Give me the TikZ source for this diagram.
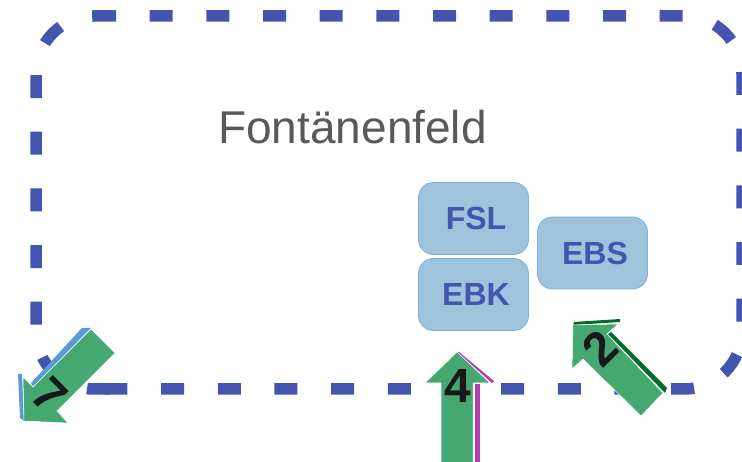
\documentclass[tikz,border=0pt]{standalone}
\usepackage{fontspec}
\setmainfont{Liberation Sans}
\definecolor{frameblue}{HTML}{4455B0}
\definecolor{boxfill}{HTML}{9FC3DB}
\definecolor{boxedge}{HTML}{7FB0D8}
\definecolor{arrowgreen}{HTML}{45A871}
\definecolor{stripblue}{HTML}{5B9BD5}
\definecolor{stripgreen}{HTML}{006B2D}
\definecolor{strippurple}{HTML}{B23FB0}
\definecolor{titlegrey}{HTML}{595959}
\tikzset{
  framepath/.style={draw=frameblue,line width=11.5pt,dash pattern=on 23pt off 33.67pt},
  fieldbox/.style={draw=boxedge,line width=.8pt,fill=boxfill,rounded corners=15pt,minimum width=110pt,minimum height=72pt,inner sep=0pt,
    text=frameblue,font=\fontsize{32}{32}\selectfont\bfseries},
  arrowbody/.style={fill=arrowgreen,draw=white,line width=.5pt,line join=miter},
  numlabel/.style={font=\fontsize{48}{48}\selectfont\bfseries,text=black!90,inner sep=0pt}
}
\begin{document}
\begin{tikzpicture}[x=1pt,y=-1pt]
\useasboundingbox (0,0) rectangle (742,462);
\clip (0,0) rectangle (742,462);
% dashed field frame
\draw[framepath] (93,16) -- (684,16) arc[start angle=-90,end angle=0,radius=58]
  -- (742,331) arc[start angle=0,end angle=90,radius=58] -- (103,389);
\draw[framepath] (110,389) -- (94,389) arc[start angle=90,end angle=180,radius=58]
  -- (36,74) arc[start angle=180,end angle=270,radius=58];
% title
\node[font=\fontsize{46}{46}\selectfont,text=titlegrey,inner sep=0pt] (title) at (352.5,127) {Fontänenfeld};
% boxes
\node[fieldbox] (fsl) at (473.5,218.5) {\hspace*{5pt}FSL};
\node[fieldbox] (ebk) at (473.5,294.5) {\hspace*{5pt}EBK};
\node[fieldbox] (ebs) at (592.5,253) {\hspace*{5pt}EBS};
% arrow 4
\fill[strippurple] (459,352) -- (494,381) -- (492,383) -- (457,352) -- cycle;
\fill[strippurple] (475,384) rectangle (480,462);
\path[arrowbody] (457,352) -- (490,383) -- (473,383) -- (473,463) -- (441,463) -- (441,383) -- (425,383) -- cycle;
\node[numlabel] (four) at (458,386) {4};
% arrow 2
\fill[stripgreen] (574,322) -- (620,319) -- (620,322) -- (573,325) -- cycle;
\fill[stripgreen] (611,332) -- (667,388) -- (665,393) -- (608,334) -- cycle;
\path[arrowbody] (573,325) -- (618,324) -- (607,334) -- (663,393) -- (641,416) -- (583,359) -- (572,369) -- cycle;
\node[numlabel,rotate=45] (two) at (600,348) {2};
% arrow 7
\fill[stripblue] (31,383) -- (82,328) -- (91,328) -- (33,387) -- cycle;
\fill[stripblue] (18,374) -- (22,374) -- (24,421) -- (20,418) -- cycle;
\path[arrowbody] (24,421) -- (23,377) -- (33,387) -- (91,329) -- (115,353) -- (57,411) -- (68,423) -- cycle;
\node[numlabel,rotate=-45] (seven) at (50,395) {7};
\end{tikzpicture}
\end{document}
